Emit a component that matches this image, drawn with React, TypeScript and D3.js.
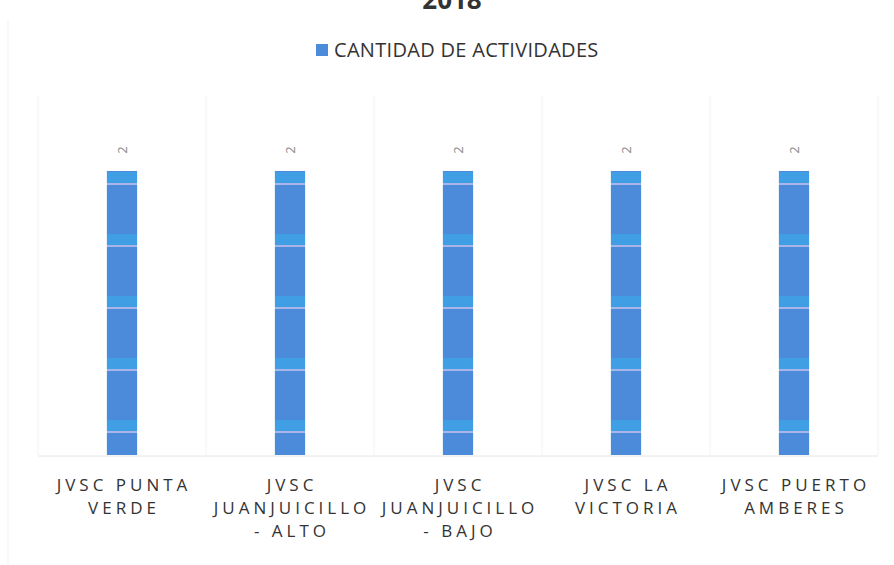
import React from "react";
import * as d3 from "d3";

// chart data
const categories = [
  ["JVSC PUNTA", "VERDE"],
  ["JVSC", "JUANJUICILLO", "- ALTO"],
  ["JVSC", "JUANJUICILLO", "- BAJO"],
  ["JVSC LA", "VICTORIA"],
  ["JVSC PUERTO", "AMBERES"],
];
const actividades = [2, 2, 2, 2, 2];
const seriesName = "CANTIDAD DE ACTIVIDADES";
const titleText = "2018";

const W = 894;
const H = 565;
const margin = { top: 100, right: 16, bottom: 110, left: 38 };

export default function App() {
  const x = d3
    .scaleBand<number>()
    .domain(d3.range(categories.length))
    .range([margin.left, W - margin.right])
    .paddingInner(0.82)
    .paddingOuter(0.41);

  const y = d3
    .scaleLinear()
    .domain([0, 2.5])
    .range([H - margin.bottom, margin.top]);

  const step = x.step();
  const bottom = y(0);
  const font = "'Open Sans', 'Liberation Sans', sans-serif";
  const spacing = 4;

  return (
    <svg
      width={W}
      height={H}
      style={{ position: "absolute", left: 0, top: 0, background: "#fff" }}
      fontFamily={font}
    >
      <defs>
        {/* scanned look: lighter bands across the bars */}
        <pattern id="barFill" patternUnits="userSpaceOnUse" x={0} y={185 - 62} width={10} height={62}>
          <rect width={10} height={62} fill="#4b8bd9" />
          <rect y={49} width={10} height={11} fill="#3f9ee4" />
          <rect y={60} width={10} height={2} fill="#a9b5e6" />
        </pattern>
      </defs>

      <text x={452} y={9} textAnchor="middle" fontSize={26} fontWeight="bold" fill="#333">
        {titleText}
      </text>

      {/* legend */}
      <rect x={316} y={44} width={12} height={12} fill="#4b8bd9" />
      <text x={334} y={57} fontSize={20} fill="#333" letterSpacing={0.3}>
        {seriesName}
      </text>

      {/* faint vertical gridlines between categories */}
      {d3.range(categories.length + 1).map((i) => {
        const gx = margin.left + i * step;
        return (
          <line key={i} x1={gx} x2={gx} y1={margin.top - 5} y2={bottom} stroke="#f2f2f2" strokeWidth={1} />
        );
      })}
      <line x1={margin.left} x2={W - margin.right} y1={bottom + 1} y2={bottom + 1} stroke="#e6e6e6" />
      <line x1={8} x2={8} y1={20} y2={H} stroke="#f3f3f3" />

      {/* bars */}
      {actividades.map((v, i) => (
        <rect
          key={i}
          x={x(i)}
          y={y(v)}
          width={x.bandwidth()}
          height={bottom - y(v)}
          fill="url(#barFill)"
        />
      ))}

      {/* value labels, rotated */}
      {actividades.map((v, i) => {
        const cx = (x(i) as number) + x.bandwidth() / 2;
        const cy = y(v) - 21;
        return (
          <text
            key={i}
            transform={`translate(${cx},${cy}) rotate(-90)`}
            textAnchor="middle"
            dy="0.35em"
            fontSize={13}
            fill="#888"
          >
            {v}
          </text>
        );
      })}

      {/* category labels */}
      {categories.map((lines, i) => {
        const cx = (x(i) as number) + x.bandwidth() / 2 + spacing / 2;
        return (
          <text key={i} textAnchor="middle" fontSize={17} fill="#333" letterSpacing={spacing}>
            {lines.map((l, j) => (
              <tspan key={j} x={cx} y={491 + j * 23}>
                {l}
              </tspan>
            ))}
          </text>
        );
      })}
    </svg>
  );
}
